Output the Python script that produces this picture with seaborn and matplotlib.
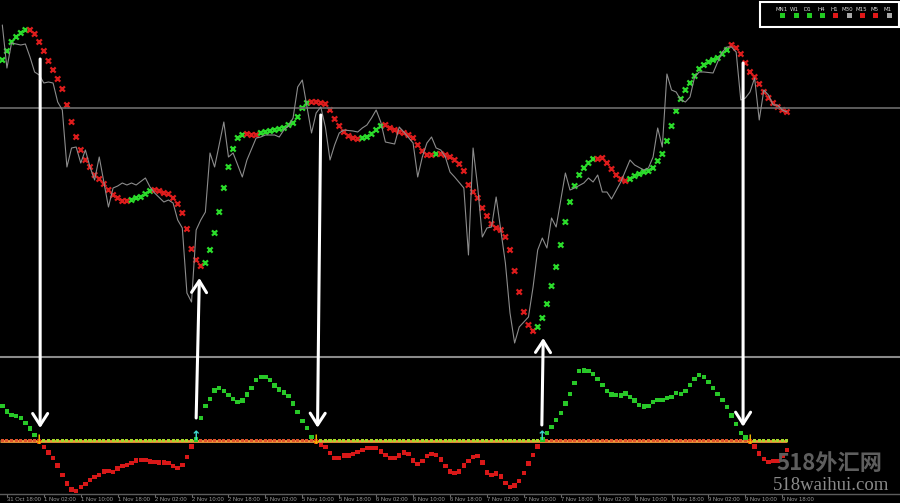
import numpy as np
import pandas as pd
import seaborn as sns
import matplotlib.pyplot as plt
from matplotlib.patches import ConnectionPatch, Rectangle

sns.set_style("dark", {"axes.facecolor": "black", "figure.facecolor": "black"})
plt.rcParams["font.family"] = ["DejaVu Sans"]

GREEN = "#2bdc2b"
RED = "#dd1c1c"
GRAY = "#8c8c8c"

# signal line of the main window, one value per hourly bar
signal_level = [297, 306, 315, 320, 324, 327, 327, 323, 315, 306, 296, 287, 278, 268, 252, 235,
                220, 207, 197, 190, 182, 178, 173, 167, 162, 159, 156, 156, 157, 159, 160, 163,
                166, 167, 166, 164, 163, 159, 153, 144, 128, 108, 97, 91, 94, 107, 124, 145,
                169, 190, 208, 219, 222, 223, 222, 222, 224, 225, 226, 227, 228, 229, 232, 234,
                240, 249, 254, 255, 255, 254, 253, 247, 238, 231, 225, 221, 219, 218, 219, 220,
                223, 227, 231, 232, 229, 227, 225, 224, 222, 219, 212, 206, 202, 202, 203, 203,
                202, 200, 197, 193, 186, 172, 165, 159, 149, 141, 133, 129, 127, 120, 107, 86,
                65, 45, 32, 26, 30, 39, 53, 71, 90, 112, 135, 155, 171, 182, 189, 194,
                198, 198, 199, 194, 188, 182, 178, 176, 178, 181, 183, 185, 186, 189, 196, 203,
                216, 231, 246, 258, 267, 274, 281, 288, 292, 295, 297, 299, 303, 307, 312, 309,
                303, 294, 285, 280, 273, 265, 259, 254, 250, 247, 245]
trend_runs = [("up", 6), ("down", 22), ("up", 5), ("down", 11), ("up", 9), ("down", 3),
              ("up", 11), ("down", 11), ("up", 5), ("down", 11), ("up", 1), ("down", 21),
              ("up", 13), ("down", 7), ("up", 22), ("down", 13)]

# close price line (bar, level)
price_bar = [0, 1, 2, 3, 4, 5, 6, 7, 8, 9, 10, 11, 12, 13, 14, 15, 16, 17, 18, 19, 20, 21, 22, 23,
             24, 25, 26, 27, 28, 29, 31, 32, 33, 35, 36, 37, 38, 39, 40, 41, 42, 43, 44, 45, 46, 48,
             49, 50, 52, 53, 55, 56, 57, 59, 60, 61, 62, 63, 64, 65, 67, 68, 69, 70, 71, 72, 73, 74,
             76, 77, 78, 79, 80, 81, 82, 83, 84, 85, 86, 87, 89, 90, 91, 92, 93, 94, 95, 96, 97, 98,
             100, 101, 102, 103, 104, 105, 106, 107, 108, 109, 110, 111, 112, 114, 115, 116, 117,
             118, 119, 120, 122, 123, 124, 126, 127, 128, 129, 130, 131, 132, 134, 136, 137, 139,
             140, 141, 142, 143, 144, 145, 146, 147, 148, 149, 150, 151, 152, 154, 155, 156, 157,
             158, 159, 160, 161, 162, 163, 164, 165, 166, 167, 168, 169, 170]
price_level = [332, 289, 314, 313, 312, 313, 300, 285, 282, 274, 275, 274, 255, 247, 190, 209, 210,
               194, 207, 190, 177, 200, 175, 150, 169, 171, 174, 172, 174, 172, 179, 170, 164, 155,
               157, 154, 137, 129, 64, 55, 127, 137, 145, 204, 190, 235, 200, 204, 180, 197, 219,
               220, 222, 222, 220, 227, 231, 239, 270, 277, 224, 244, 250, 230, 197, 212, 224, 227,
               226, 225, 229, 232, 239, 247, 235, 215, 214, 213, 230, 225, 214, 180, 200, 214, 220,
               209, 207, 200, 185, 180, 169, 102, 209, 170, 120, 129, 130, 160, 127, 94, 44, 14, 30,
               40, 70, 107, 119, 109, 139, 130, 184, 167, 169, 174, 179, 175, 182, 165, 165, 158,
               175, 197, 192, 187, 189, 200, 229, 210, 283, 267, 265, 257, 255, 260, 280, 285, 285,
               284, 295, 305, 310, 310, 305, 257, 259, 265, 279, 237, 267, 262, 252, 252, 247, 245]

# oscillator in the lower window, one value per bar
osc = [34.3, 29, 25.7, 24.3, 22.3, 17.3, 12, 5.3, -1, -6.7,
       -12, -17.7, -25, -34.3, -43, -49, -50.7, -46.7, -43.7, -39.7,
       -36.3, -34.3, -31, -30.3, -31.7, -28, -25.3, -24.7, -22.3, -20,
       -19.3, -19.3, -21, -21.7, -22, -22, -22.3, -25.7, -27.3, -24.3,
       -16.7, -6, 1, 22.3, 34.7, 41.7, 50, 52.3, 49.3, 45.7,
       41.7, 38.7, 40, 46, 52.7, 60.3, 63.7, 63.7, 60.3, 55,
       51, 48, 44.7, 37, 28.7, 19.7, 12.3, 3.3, -1, -4.3,
       -6.7, -12.7, -17.3, -17.3, -15, -15, -13.7, -11.3, -9.3, -7.7,
       -7.3, -7.7, -11, -14.7, -17.3, -17.3, -15, -12, -13.3, -20,
       -23.7, -20.7, -15.7, -13.7, -14.7, -19, -25.3, -31, -32.7, -31,
       -25, -20.7, -16.3, -15.7, -22, -32, -34.3, -33, -36, -42.3,
       -46.3, -45, -40.7, -32.7, -23, -14.7, -6, 1, 7.7, 13.3,
       20.3, 27.7, 37, 46.7, 57.3, 69.7, 70, 69.7, 66.3, 61.3,
       55.3, 49.7, 46, 45.3, 45, 47, 43.7, 40, 35.7, 34,
       34.7, 38.3, 40.7, 40.3, 42.3, 43.3, 47.3, 46.3, 49.3, 55.7,
       61.3, 65.3, 63.7, 58.3, 52.7, 46.3, 40.3, 33.7, 25, 16.3,
       7.7, 3, -1, -6, -13, -18.7, -21.3, -20.7, -20.3, -15.3, -9.7]

sell_bars = [8, 68, 162]
buy_bars = [42, 117]

# hand drawn arrows: from the signal window to the oscillator
arrow_kind = ["sell", "buy", "sell", "buy", "sell"]
arrow_top_bar = [8.2, 42.7, 69.0, 117.2, 160.5]
arrow_top_level = [298, 79, 242, 19, 294]
arrow_bot_bar = [8.2, 42.0, 68.3, 116.9, 160.5]
arrow_bot_osc = [12.5, 22.5, 12.8, 15.5, 13.8]

time_labels = ["31 Oct 18:00", "1 Nov 02:00", "1 Nov 10:00", "1 Nov 18:00", "2 Nov 02:00",
               "2 Nov 10:00", "2 Nov 18:00", "5 Nov 02:00", "5 Nov 10:00", "5 Nov 18:00",
               "6 Nov 02:00", "6 Nov 10:00", "6 Nov 18:00", "7 Nov 02:00", "7 Nov 10:00",
               "7 Nov 18:00", "8 Nov 02:00", "8 Nov 10:00", "8 Nov 18:00", "9 Nov 02:00",
               "9 Nov 10:00", "9 Nov 18:00"]
time_bars = [1 + 8 * k for k in range(len(time_labels))]

tf_names = ["MN1", "W1", "D1", "H4", "H1", "M30", "M15", "M5", "M1"]
tf_state = ["up", "up", "up", "up", "down", "flat", "down", "down", "flat"]

bars = np.arange(len(signal_level))
trend = sum([[s] * n for s, n in trend_runs], [])
df_sig = pd.DataFrame({"bar": bars, "level": signal_level, "trend": trend})
df_osc = pd.DataFrame({"bar": bars, "osc": osc})
df_osc["side"] = np.where(df_osc["osc"] > 0, "up", "down")
df_osc["zero"] = 0.0

fig = plt.figure(figsize=(9, 5.03), dpi=100, facecolor="black")
ax_top = fig.add_axes([0, 146 / 503, 1, 357 / 503])
ax_bot = fig.add_axes([0, 9 / 503, 1, 137 / 503])
for ax in (ax_top, ax_bot):
    ax.set_facecolor("black")
    ax.set_xlim(-0.5, 194.5)
ax_top.set_ylim(0, 357)
ax_bot.set_ylim(-53.5, 83.5)

# main window
ax_top.axhline(249, color="#6c6c6c", lw=1.2)
sns.lineplot(x=price_bar, y=price_level, color=GRAY, lw=0.8, ax=ax_top)
sns.scatterplot(data=df_sig, x="bar", y="level", hue="trend", palette={"up": GREEN, "down": RED},
                marker="x", s=14, linewidth=1.6, legend=False, ax=ax_top)

# oscillator window
ax_bot.hlines(0, bars.min() - 0.5, bars.max(), color="#f29a3c", lw=2, zorder=2)
sns.scatterplot(data=df_osc, x="bar", y="zero", hue="side", palette={"up": "#e0542c", "down": "#a6d82a"},
                marker="s", s=5, linewidth=0, legend=False, ax=ax_bot, zorder=3)
sns.scatterplot(data=df_osc, x="bar", y="osc", hue="side", palette={"up": "#28c828", "down": "#d81818"},
                marker="s", s=10, linewidth=0, legend=False, ax=ax_bot, zorder=3)
for b in sell_bars:
    ax_bot.text(b, -0.5, "↓", color="#f2b400", fontsize=9, fontweight="bold", ha="center", va="center", zorder=4)
for b in buy_bars:
    ax_bot.text(b, 4.5, "↑", color="#3ed8d0", fontsize=9, fontweight="bold", ha="center", va="center", zorder=4)

for ax in (ax_top, ax_bot):
    ax.set_xlabel("")
    ax.set_ylabel("")
    ax.set_yticks([])
    for s in ax.spines.values():
        s.set_visible(False)
ax_top.set_xticks([])
ax_bot.spines["top"].set_visible(True)
ax_bot.spines["top"].set_color("#8a8a8a")
ax_bot.spines["top"].set_linewidth(1.5)
ax_bot.spines["bottom"].set_visible(True)
ax_bot.spines["bottom"].set_color("#5c5c5c")
ax_bot.spines["bottom"].set_linewidth(1)
ax_bot.set_xticks(time_bars)
ax_bot.set_xticklabels(time_labels, family=["Liberation Sans"])
ax_bot.tick_params(axis="x", bottom=True, length=2, width=0.8, color="#6c6c6c", pad=0.3,
                   labelsize=4.2, labelcolor="#9a9a9a")
for lbl in ax_bot.get_xticklabels():
    lbl.set_ha("left")

# white arrows
for kind, bt, lt, bb, ob in zip(arrow_kind, arrow_top_bar, arrow_top_level, arrow_bot_bar, arrow_bot_osc):
    top = ((bt, lt), ax_top.transData)
    bot = ((bb, ob), ax_bot.transData)
    a, b = (top, bot) if kind == "sell" else (bot, top)
    con = ConnectionPatch(xyA=a[0], coordsA=a[1], xyB=b[0], coordsB=b[1],
                          arrowstyle="->,head_length=0.42,head_width=0.27", mutation_scale=20,
                          color="white", lw=2.2, zorder=10)
    fig.add_artist(con)

# timeframe panel
W, H = 900, 503
fig.add_artist(Rectangle((760 / W, 1 - 26.7 / H), 139 / W, 25 / H, transform=fig.transFigure,
                         facecolor="black", edgecolor="white", lw=1.5))
state_color = {"up": "#22cc22", "down": "#e01818", "flat": "#a8a8a8"}
for k, (name, st) in enumerate(zip(tf_names, tf_state)):
    cx = 782.7 + 13.3 * k
    fig.text((cx - 1.5) / W, 1 - 9.5 / H, name, fontsize=4, color="#d8d8d8", ha="center", va="center")
    fig.add_artist(Rectangle(((cx - 2.5) / W, 1 - 18.3 / H), 5 / W, 5 / H, transform=fig.transFigure,
                             facecolor=state_color[st], edgecolor="none"))

# watermark
fig.text(829 / W, 1 - 464 / H, "518外汇网", fontsize=16, color="#5e5e5e",
         family=["Noto Sans CJK SC", "DejaVu Sans"], ha="center", va="center", fontweight="bold")
fig.text(831 / W, 1 - 485 / H, "518waihui.com", fontsize=13.5, color="#8a8a8a",
         family=["Liberation Serif"], ha="center", va="center")

fig.savefig("out.png", dpi=100, facecolor="black")
